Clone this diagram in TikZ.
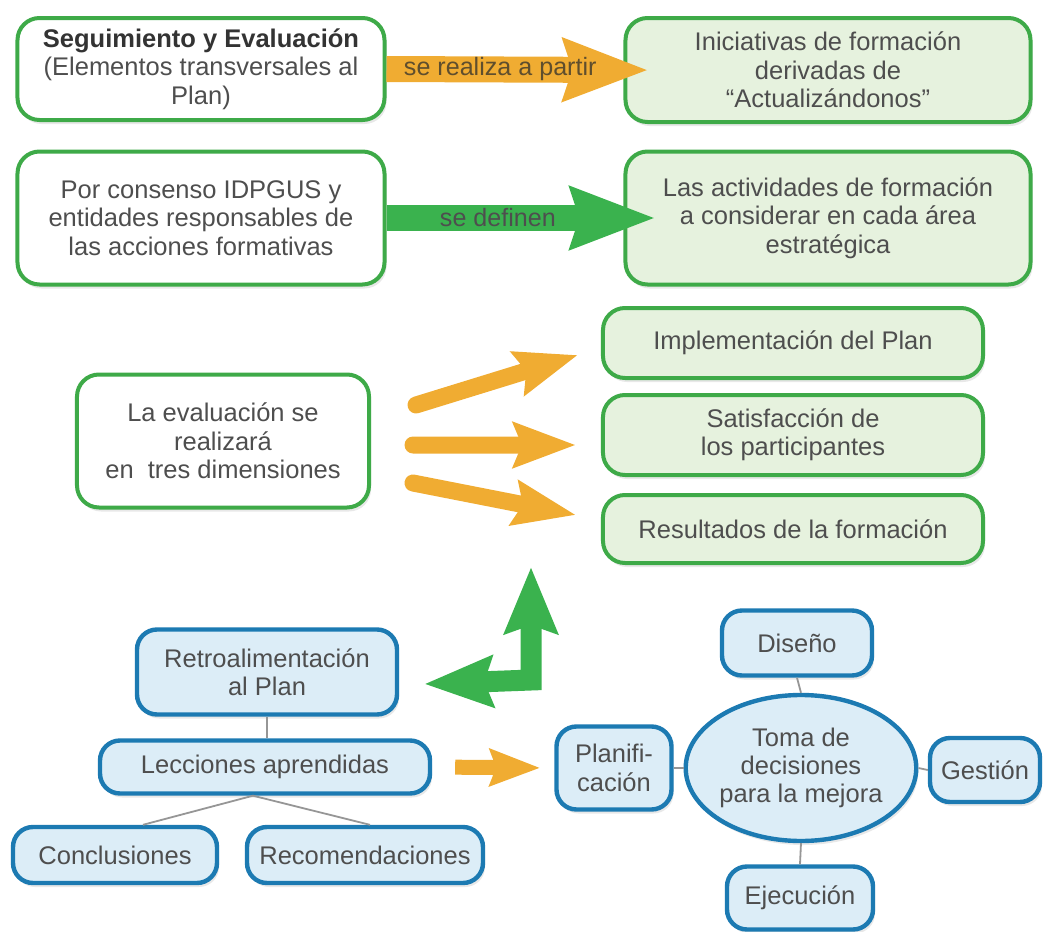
\documentclass[tikz,border=0pt]{standalone}
\usepackage{fontspec}
\setmainfont{Liberation Sans}
\usetikzlibrary{arrows.meta,shapes.geometric,shadows}

\definecolor{boxgreen}{RGB}{62,170,72}
\definecolor{fillgreen}{RGB}{230,242,222}
\definecolor{boxblue}{RGB}{28,122,178}
\definecolor{fillblue}{RGB}{220,237,247}
\definecolor{arroworange}{RGB}{240,172,50}
\definecolor{arrowgreen}{RGB}{58,178,78}
\definecolor{textgray}{RGB}{78,78,78}
\definecolor{labelbrown}{RGB}{95,78,45}
\definecolor{linegray}{RGB}{150,150,150}

\tikzset{
  boxtext/.style={text=textgray, align=center, inner sep=0pt,
    font=\fontsize{12.8}{14.2}\selectfont},
  greenbox/.style={boxtext, draw=boxgreen, line width=2bp, rounded corners=11bp,
    fill=white, drop shadow={shadow xshift=1bp, shadow yshift=-2bp, opacity=0.18}},
  greenfill/.style={greenbox, fill=fillgreen},
  bluebox/.style={boxtext, draw=boxblue, line width=2.2bp, rounded corners=10bp,
    fill=fillblue, drop shadow={shadow xshift=1bp, shadow yshift=-2bp, opacity=0.18}},
  link/.style={draw=linegray, line width=0.9bp},
  fatarrow/.style={line width=13bp, -{Stealth[length=42bp,width=30bp,inset=4bp]}},
  slimarrow/.style={draw=arroworange, line width=8.5bp, line cap=round,
    -{Stealth[length=31bp,width=22bp,inset=4bp]}},
  arrowlabel/.style={font=\fontsize{12.6}{14}\selectfont, inner sep=0pt},
}

\begin{document}
\begin{tikzpicture}[x=0.5bp,y=-0.5bp,line join=miter]
\useasboundingbox (0,0) rectangle (1044,932);

% Node: seg
\node[greenbox, minimum width=183.5bp, minimum height=51bp] (seg) at (201,69)
  {{\color{black!80}\textbf{Seguimiento y Evaluación}}\\(Elementos transversales al\\Plan)};

% Node: ini
\node[greenfill, minimum width=202.5bp, minimum height=52bp] (ini) at (828,70)
  {Iniciativas de formación\\derivadas de\\“Actualizándonos”};

% Node: cons
\node[greenbox, minimum width=183.5bp, minimum height=66.5bp] (cons) at (201,218)
  {Por consenso IDPGUS y\\entidades responsables de\\las acciones formativas};

% Node: act
\node[greenfill, minimum width=202.5bp, minimum height=66.5bp] (act) at (828,218)
  {Las actividades de formación\\a considerar en cada área\\estratégica};

% Node: evalu
\node[greenbox, minimum width=146bp, minimum height=66.5bp] (evalu) at (223,441)
  {La evaluación se\\realizará\\en\ \ tres dimensiones};

% Nodes: impl, satis, resul
\node[greenfill, minimum width=190bp, minimum height=35bp] (impl) at (793,343)
  {Implementación del Plan};
\node[greenfill, minimum width=190bp, minimum height=40bp] (satis) at (793,435)
  {Satisfacción de\\los participantes};
\node[greenfill, minimum width=190bp, minimum height=34bp] (resul) at (793,529)
  {Resultados de la formación};

% Nodes: retro, lecc, concl, recom
\node[bluebox, minimum width=130bp, minimum height=42.5bp] (retro) at (267,672)
  {Retroalimentación\\al Plan};
\node[bluebox, minimum width=165bp, minimum height=26.5bp] (lecc) at (265,767)
  {Lecciones aprendidas};
\node[bluebox, minimum width=102bp, minimum height=28bp] (concl) at (115,855)
  {Conclusiones};
\node[bluebox, minimum width=118bp, minimum height=28bp] (recom) at (365,855)
  {Recomendaciones};

% Nodes: toma and its four satellites
\node[bluebox, ellipse, minimum width=110bp, minimum height=73bp] (toma) at (801,768)
  {Toma de\\decisiones\\para la mejora};
\node[bluebox, minimum width=75bp, minimum height=32.5bp] (diseno) at (797,643)
  {Diseño};
\node[bluebox, minimum width=73bp, minimum height=31.5bp] (ejec) at (800,898)
  {Ejecución};
\node[bluebox, minimum width=57.5bp, minimum height=41.5bp] (plan) at (614,768)
  {Planifi-\\cación};
\node[bluebox, minimum width=55bp, minimum height=32bp] (gest) at (985,770)
  {Gestión};

% Edges: plain links
\draw[link] (retro.south) -- (retro.south |- lecc.north);
\draw[link] ([xshift=-6bp]lecc.south) -- ([xshift=14bp]concl.north);
\draw[link] ([xshift=-6bp]lecc.south) -- ([xshift=2.5bp]recom.north);
\draw[link] (diseno.south) -- (toma.north);
\draw[link] (toma.south) -- (ejec.north);
\draw[link] (plan.east) -- (toma.west);
\draw[link] (toma.east) -- (gest.west);

% Edge: seg -> ini
\draw[fatarrow, arroworange, shorten >=-12.5bp] (seg.east) -- (ini.west)
  node[arrowlabel, pos=0.48, text=labelbrown] {se realiza a partir};

% Edge: cons -> act
\draw[fatarrow, arrowgreen, shorten >=-16bp] (cons.east) -- (act.west)
  node[arrowlabel, pos=0.47, text=textgray] {se definen};

% Edges: evalu -> impl, satis, resul
\coordinate (t1) at ([xshift=22.5bp,yshift=18bp]evalu.east);
\coordinate (t2) at ([xshift=21bp,yshift=-2bp]evalu.east);
\coordinate (t3) at ([xshift=21bp,yshift=-21bp]evalu.east);
\coordinate (h1) at ([xshift=-11.5bp,yshift=-6bp]impl.west);
\coordinate (h2) at ([xshift=-12.5bp,yshift=-5bp]satis.west);
\coordinate (h3) at ([xshift=-12.5bp,yshift=7bp]resul.west);
\draw[slimarrow] (t1) -- (h1);
\draw[slimarrow] (t2) -- (h2);
\draw[slimarrow] (t3) -- (h3);

% Edge: resul <-> retro (bent arrow)
\coordinate (bendleft) at ([xshift=12.5bp,yshift=-6bp]retro.east);
\coordinate (bendcorner) at (531,680);
\coordinate (bendtop) at (531,567);
\draw[arrowgreen, line width=10.5bp,
  {Stealth[length=34bp,width=25bp,inset=4bp]}-{Stealth[length=33bp,width=26bp,inset=4bp]}]
  (bendleft) -- (bendcorner) -- (bendtop);

% Edge: lecc -> plan
\draw[arroworange, line width=7.5bp, shorten <=11.5bp, shorten >=7bp,
  -{Stealth[length=25bp,width=18bp,inset=3bp]}] (lecc.east) -- (plan.west);

\end{tikzpicture}
\end{document}
